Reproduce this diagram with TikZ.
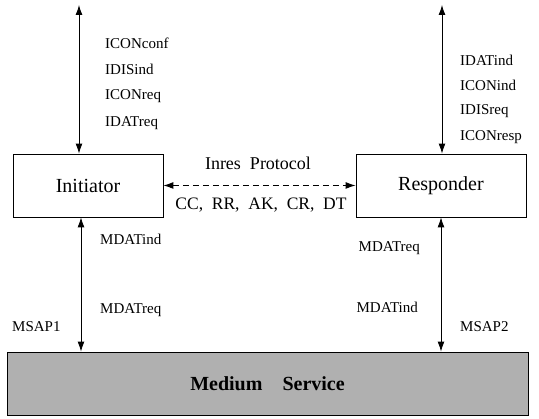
\documentclass[tikz,border=0pt]{standalone}
\usepackage{fontspec}
\setmainfont{Liberation Serif}
\usetikzlibrary{positioning,arrows.meta}
\begin{document}
\begin{tikzpicture}[x=1pt,y=1pt,
      >={Latex[length=3.5mm,width=2.4mm]},
      ent/.style={draw,thick,minimum height=63pt,inner sep=0pt,
                  font=\fontsize{20}{22}\selectfont},
      lbl/.style={inner sep=0pt,font=\fontsize{15}{17}\selectfont},
      arrow/.style={<->,thick}]
    \useasboundingbox (0,0) rectangle (539,419);
    \node[ent,minimum width=150pt] (init) at (88,233.5) {Initiator};
    \node[ent,minimum width=170pt] (resp) at (441,233.5) {Responder};
    \node[ent,fill=gray!62,minimum width=521pt,
          font=\fontsize{20}{22}\selectfont\bfseries] (medium) at (267.5,35.5) {Medium\quad Service};
    \coordinate (itop) at (79,414);
    \coordinate (rtop) at (442,414);
    \coordinate (ibot) at (81,0);
    \draw[arrow] (itop) -- (itop |- init.north);
    \draw[arrow] (rtop) -- (rtop |- resp.north);
    \draw[arrow] (ibot |- init.south) -- (ibot |- medium.north);
    \draw[arrow] (resp.south) -- (resp.south |- medium.north);
    \draw[arrow,dash pattern=on 6pt off 4pt] (init.east) -- (resp.west);
    \foreach \t [count=\i] in {ICONconf,IDISind,ICONreq,IDATreq}
      \node[lbl,anchor=west] (il\i) at (105,{376-(\i-1)*26.7}) {\t};
    \foreach \t [count=\i] in {IDATind,ICONind,IDISreq,ICONresp}
      \node[lbl,anchor=west] (rl\i) at (460,{359-(\i-1)*25.7}) {\t};
    \node[lbl,anchor=west] (mil) at (100,180) {MDATind};
    \node[lbl,anchor=west] (mrl) at (100,109) {MDATreq};
    \node[lbl,anchor=west] (msap1) at (12,92) {MSAP1};
    \node[lbl,anchor=east] (mrr) at (420,171) {MDATreq};
    \node[lbl,anchor=east] (mir) at (418,112) {MDATind};
    \node[lbl,anchor=west] (msap2) at (460,92) {MSAP2};
    \node[lbl,font=\fontsize{18}{20}\selectfont] (proto) at (258,256) {Inres\ \ Protocol};
    \node[lbl,font=\fontsize{17.5}{20}\selectfont] (pdu) at (261,214) {CC,\ \ RR,\ \ AK,\ \ CR,\ \ DT};
\end{tikzpicture}
\end{document}
